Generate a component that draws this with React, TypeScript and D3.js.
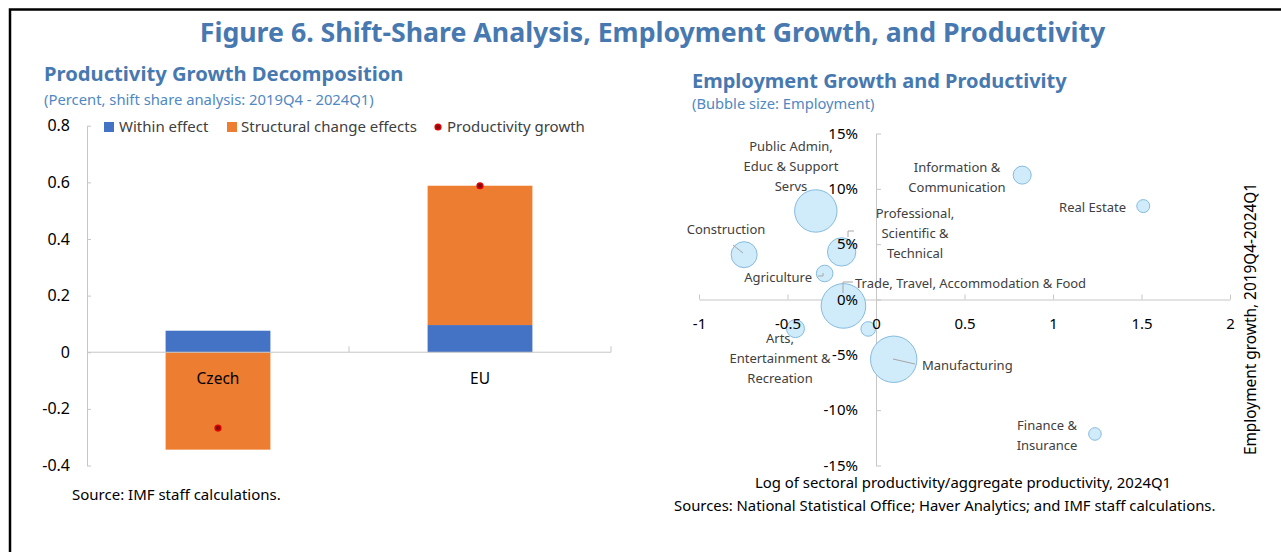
import { useEffect, useRef } from "react"
import * as d3 from "d3"

// Left panel: productivity growth decomposition (percent)
const countries = ["Czech", "EU"]
const withinEffect = [0.076, 0.096]
const structuralEffect = [-0.344, 0.492]
const productivityGrowth = [-0.268, 0.588]
const leftTicks = [-0.4, -0.2, 0, 0.2, 0.4, 0.6, 0.8]

// Right panel: employment growth vs relative productivity
const sectors = [
  "Public Admin, Educ & Support Servs",
  "Construction",
  "Professional, Scientific & Technical",
  "Agriculture",
  "Trade, Travel, Accommodation & Food",
  "Arts, Entertainment & Recreation",
  "Mining & Utilities",
  "Manufacturing",
  "Information & Communication",
  "Real Estate",
  "Finance & Insurance",
]
const relProductivity = [-0.34, -0.745, -0.194, -0.29, -0.184, -0.455, -0.044, 0.1, 0.826, 1.51, 1.237]
const employmentGrowth = [8.0, 4.05, 4.3, 2.35, -0.58, -2.63, -2.66, -5.4, 11.24, 8.44, -12.15]
const employment = [1169, 440, 524, 179, 1294, 211, 139, 1400, 211, 110, 103]
const xTicks = [-1, -0.5, 0, 0.5, 1, 1.5, 2]
const yTicks = [-15, -10, -5, 0, 5, 10, 15]

const FONT = "'Noto Sans', sans-serif"
const TITLE_BLUE = "#4779b0"
const SUB_BLUE = "#5088c2"
const AXIS_GRAY = "#c6c6c6"
const LABEL_GRAY = "#404040"

// where each bubble's data label sits (pixels), and its leader line if any
const labelLayout: Record<string, { lines: string[]; x: number; y: number; anchor: string; leader?: [number, number][] }> = {
  "Public Admin, Educ & Support Servs": { lines: ["Public Admin,", "Educ & Support", "Servs"], x: 791, y: 146, anchor: "middle" },
  Construction: { lines: ["Construction"], x: 726, y: 229, anchor: "middle", leader: [[733, 245], [743, 253]] },
  "Professional, Scientific & Technical": {
    lines: ["Professional,", "Scientific &", "Technical"], x: 915, y: 213, anchor: "middle",
    leader: [[854, 231], [848, 231], [848, 237]],
  },
  Agriculture: { lines: ["Agriculture"], x: 812, y: 277, anchor: "end", leader: [[818, 276], [823, 276], [823, 273]] },
  "Trade, Travel, Accommodation & Food": {
    lines: ["Trade, Travel, Accommodation & Food"], x: 855, y: 283, anchor: "start",
    leader: [[853, 282], [843, 282], [843, 293]],
  },
  "Arts, Entertainment & Recreation": { lines: ["Arts,", "Entertainment &", "Recreation"], x: 780, y: 338, anchor: "middle" },
  Manufacturing: { lines: ["Manufacturing"], x: 922, y: 365, anchor: "start", leader: [[893, 359], [915, 364]] },
  "Information & Communication": { lines: ["Information &", "Communication"], x: 957, y: 167, anchor: "middle" },
  "Real Estate": { lines: ["Real Estate"], x: 1126, y: 207, anchor: "end" },
  "Finance & Insurance": { lines: ["Finance &", "Insurance"], x: 1047, y: 425, anchor: "middle" },
}

export default function App() {
  const svgRef = useRef<SVGSVGElement>(null)

  useEffect(() => {
    if (!svgRef.current) return
    const svg = d3.select(svgRef.current)
    svg.selectAll("*").remove()

    // frame
    svg.append("path").attr("d", "M10,552 L10,9.5 L1281,9.5").attr("fill", "none").attr("stroke", "#000").attr("stroke-width", 2.5)

    svg.append("text").attr("x", 652.5).attr("y", 33).attr("dy", "0.35em").attr("text-anchor", "middle")
      .attr("font-family", FONT).attr("font-weight", 700).attr("font-size", 26.7).attr("fill", TITLE_BLUE)
      .text("Figure 6. Shift-Share Analysis, Employment Growth, and Productivity")

    // ---------- left panel ----------
    const left = svg.append("g")
    left.append("text").attr("x", 44).attr("y", 74).attr("dy", "0.35em").attr("font-family", FONT)
      .attr("font-weight", 700).attr("font-size", 20.2).attr("fill", TITLE_BLUE).text("Productivity Growth Decomposition")
    left.append("text").attr("x", 44).attr("y", 100).attr("dy", "0.35em").attr("font-family", FONT)
      .attr("font-size", 14.8).attr("fill", SUB_BLUE).text("(Percent, shift share analysis: 2019Q4 - 2024Q1)")

    const yL = d3.scaleLinear().domain([-0.4, 0.8]).range([465.5, 125.7])
    const xL = d3.scaleBand().domain(countries).range([87, 611]).paddingInner(0.6).paddingOuter(0.3)

    const yAxisL = left.append("g").attr("transform", "translate(87,0)")
      .call(d3.axisLeft(yL).tickValues(leftTicks).tickSize(-4).tickSizeOuter(0).tickPadding(17).tickFormat((d) => String(d)))
    yAxisL.selectAll("path,line").attr("stroke", AXIS_GRAY)
    yAxisL.selectAll("text").attr("font-family", FONT).attr("font-size", 16).attr("fill", "#000")

    const stackRows = countries.map((c, i) => ({ country: c, within: withinEffect[i], structural: structuralEffect[i] }))
    const stacked = d3.stack<any>().keys(["within", "structural"]).offset(d3.stackOffsetDiverging)(stackRows)
    const barColors = ["#4472c4", "#ed7d31"]
    stacked.forEach((s, si) => {
      left.append("g").selectAll("rect").data(s).enter().append("rect")
        .attr("x", (d: any) => xL(d.data.country)!)
        .attr("width", xL.bandwidth())
        .attr("y", (d) => yL(Math.max(d[0], d[1])))
        .attr("height", (d) => Math.abs(yL(d[0]) - yL(d[1])))
        .attr("fill", barColors[si])
    })

    // category axis at zero
    const y0 = yL(0)
    left.append("line").attr("x1", 87).attr("x2", 611).attr("y1", y0).attr("y2", y0).attr("stroke", AXIS_GRAY)
    ;[1, 2].forEach((k) => {
      const tx = 87 + k * xL.step()
      left.append("line").attr("x1", tx).attr("x2", tx).attr("y1", y0).attr("y2", y0 - 6).attr("stroke", AXIS_GRAY)
    })
    left.selectAll(".cat").data(countries).enter().append("text")
      .attr("x", (d) => xL(d)! + xL.bandwidth() / 2).attr("y", y0 + 26).attr("dy", "0.35em")
      .attr("text-anchor", "middle").attr("font-family", FONT).attr("font-size", 15.5).attr("fill", "#000")
      .text((d) => d)

    left.selectAll(".pg").data(productivityGrowth).enter().append("circle")
      .attr("cx", (_, i) => xL(countries[i])! + xL.bandwidth() / 2).attr("cy", (d) => yL(d))
      .attr("r", 2.8).attr("fill", "#7a1010").attr("stroke", "#e00000").attr("stroke-width", 1.6)

    // legend
    const legY = 127
    left.append("rect").attr("x", 104).attr("y", legY - 5).attr("width", 10).attr("height", 10).attr("fill", barColors[0])
    left.append("text").attr("x", 119).attr("y", legY).attr("dy", "0.35em").attr("font-family", FONT).attr("font-size", 15).attr("fill", "#404040").text("Within effect")
    left.append("rect").attr("x", 227).attr("y", legY - 5).attr("width", 10).attr("height", 10).attr("fill", barColors[1])
    left.append("text").attr("x", 241).attr("y", legY).attr("dy", "0.35em").attr("font-family", FONT).attr("font-size", 15).attr("fill", "#404040").text("Structural change effects")
    left.append("circle").attr("cx", 438).attr("cy", legY).attr("r", 2.8).attr("fill", "#7a1010").attr("stroke", "#e00000").attr("stroke-width", 1.6)
    left.append("text").attr("x", 447).attr("y", legY).attr("dy", "0.35em").attr("font-family", FONT).attr("font-size", 15).attr("fill", "#404040").text("Productivity growth")

    left.append("text").attr("x", 72).attr("y", 495).attr("dy", "0.35em").attr("font-family", FONT).attr("font-size", 15)
      .attr("fill", "#000").text("Source: IMF staff calculations.")

    // ---------- right panel ----------
    const right = svg.append("g")
    right.append("text").attr("x", 692).attr("y", 81).attr("dy", "0.35em").attr("font-family", FONT)
      .attr("font-weight", 700).attr("font-size", 20).attr("fill", TITLE_BLUE).text("Employment Growth and Productivity")
    right.append("text").attr("x", 692).attr("y", 104).attr("dy", "0.35em").attr("font-family", FONT)
      .attr("font-size", 14.7).attr("fill", SUB_BLUE).text("(Bubble size: Employment)")

    const xR = d3.scaleLinear().domain([-1, 2]).range([699, 1230])
    const yR = d3.scaleLinear().domain([-15, 15]).range([465.5, 133.5])
    const rR = d3.scaleSqrt().domain([0, d3.max(employment)!]).range([0, 23.2])

    const xAxisR = d3.axisBottom(xR).tickValues(xTicks).tickSize(-5).tickSizeOuter(0).tickFormat((d) => String(d))
    const yAxisR = d3.axisLeft(yR).tickValues(yTicks).tickSize(-5).tickSizeOuter(0).tickPadding(18).tickFormat((d) => `${d}%`)

    const gx = right.append("g").attr("transform", `translate(0,${yR(0)})`).call(xAxisR)
    gx.selectAll("path,line").attr("stroke", AXIS_GRAY)
    gx.selectAll("text").remove()
    const gy = right.append("g").attr("transform", `translate(${xR(0)},0)`).call(yAxisR)
    gy.selectAll("path,line").attr("stroke", AXIS_GRAY)
    gy.selectAll("text").remove()

    const bubbles = sectors.map((s, i) => ({ name: s, x: relProductivity[i], y: employmentGrowth[i], e: employment[i] }))
      .sort((a, b) => b.e - a.e)
    right.append("g").selectAll("circle").data(bubbles).enter().append("circle")
      .attr("cx", (d) => xR(d.x)).attr("cy", (d) => yR(d.y)).attr("r", (d) => rR(d.e))
      .attr("fill", "#d0ebf9").attr("stroke", "#86bbdf").attr("stroke-width", 1)

    // data labels
    sectors.forEach((s) => {
      const lay = labelLayout[s]
      if (!lay) return
      if (lay.leader) {
        right.append("path").attr("d", d3.line()(lay.leader)).attr("fill", "none").attr("stroke", "#a6a6a6").attr("stroke-width", 1)
      }
      lay.lines.forEach((ln, k) => {
        right.append("text").attr("x", lay.x).attr("y", lay.y + k * 20).attr("dy", "0.35em")
          .attr("text-anchor", lay.anchor).attr("font-family", FONT).attr("font-size", 13).attr("fill", LABEL_GRAY).text(ln)
      })
    })

    // tick labels on top of bubbles
    const gxl = right.append("g").attr("transform", `translate(0,${yR(0)})`).call(xAxisR)
    gxl.selectAll("path,line").remove()
    gxl.selectAll("text").attr("y", 24).attr("dy", "0.35em").attr("font-family", FONT).attr("font-size", 15).attr("fill", "#000")
    const gyl = right.append("g").attr("transform", `translate(${xR(0)},0)`).call(yAxisR)
    gyl.selectAll("path,line").remove()
    gyl.selectAll("text").attr("font-family", FONT).attr("font-size", 15).attr("fill", "#000")

    right.append("text").attr("x", 963).attr("y", 483).attr("dy", "0.35em").attr("text-anchor", "middle")
      .attr("font-family", FONT).attr("font-size", 14.9).attr("fill", "#000")
      .text("Log of sectoral productivity/aggregate productivity, 2024Q1")
    right.append("text").attr("transform", "translate(1251,319) rotate(-90)").attr("dy", "0.35em").attr("text-anchor", "middle")
      .attr("font-family", FONT).attr("font-size", 15.4).attr("fill", "#000").text("Employment growth, 2019Q4-2024Q1")
    right.append("text").attr("x", 674).attr("y", 506).attr("dy", "0.35em")
      .attr("font-family", FONT).attr("font-size", 14.85).attr("fill", "#000")
      .text("Sources: National Statistical Office; Haver Analytics; and IMF staff calculations.")
  }, [])

  return (
    <svg
      ref={svgRef}
      width={1281}
      height={552}
      style={{ position: "absolute", left: 0, top: 0, display: "block", background: "#fff" }}
    />
  )
}
